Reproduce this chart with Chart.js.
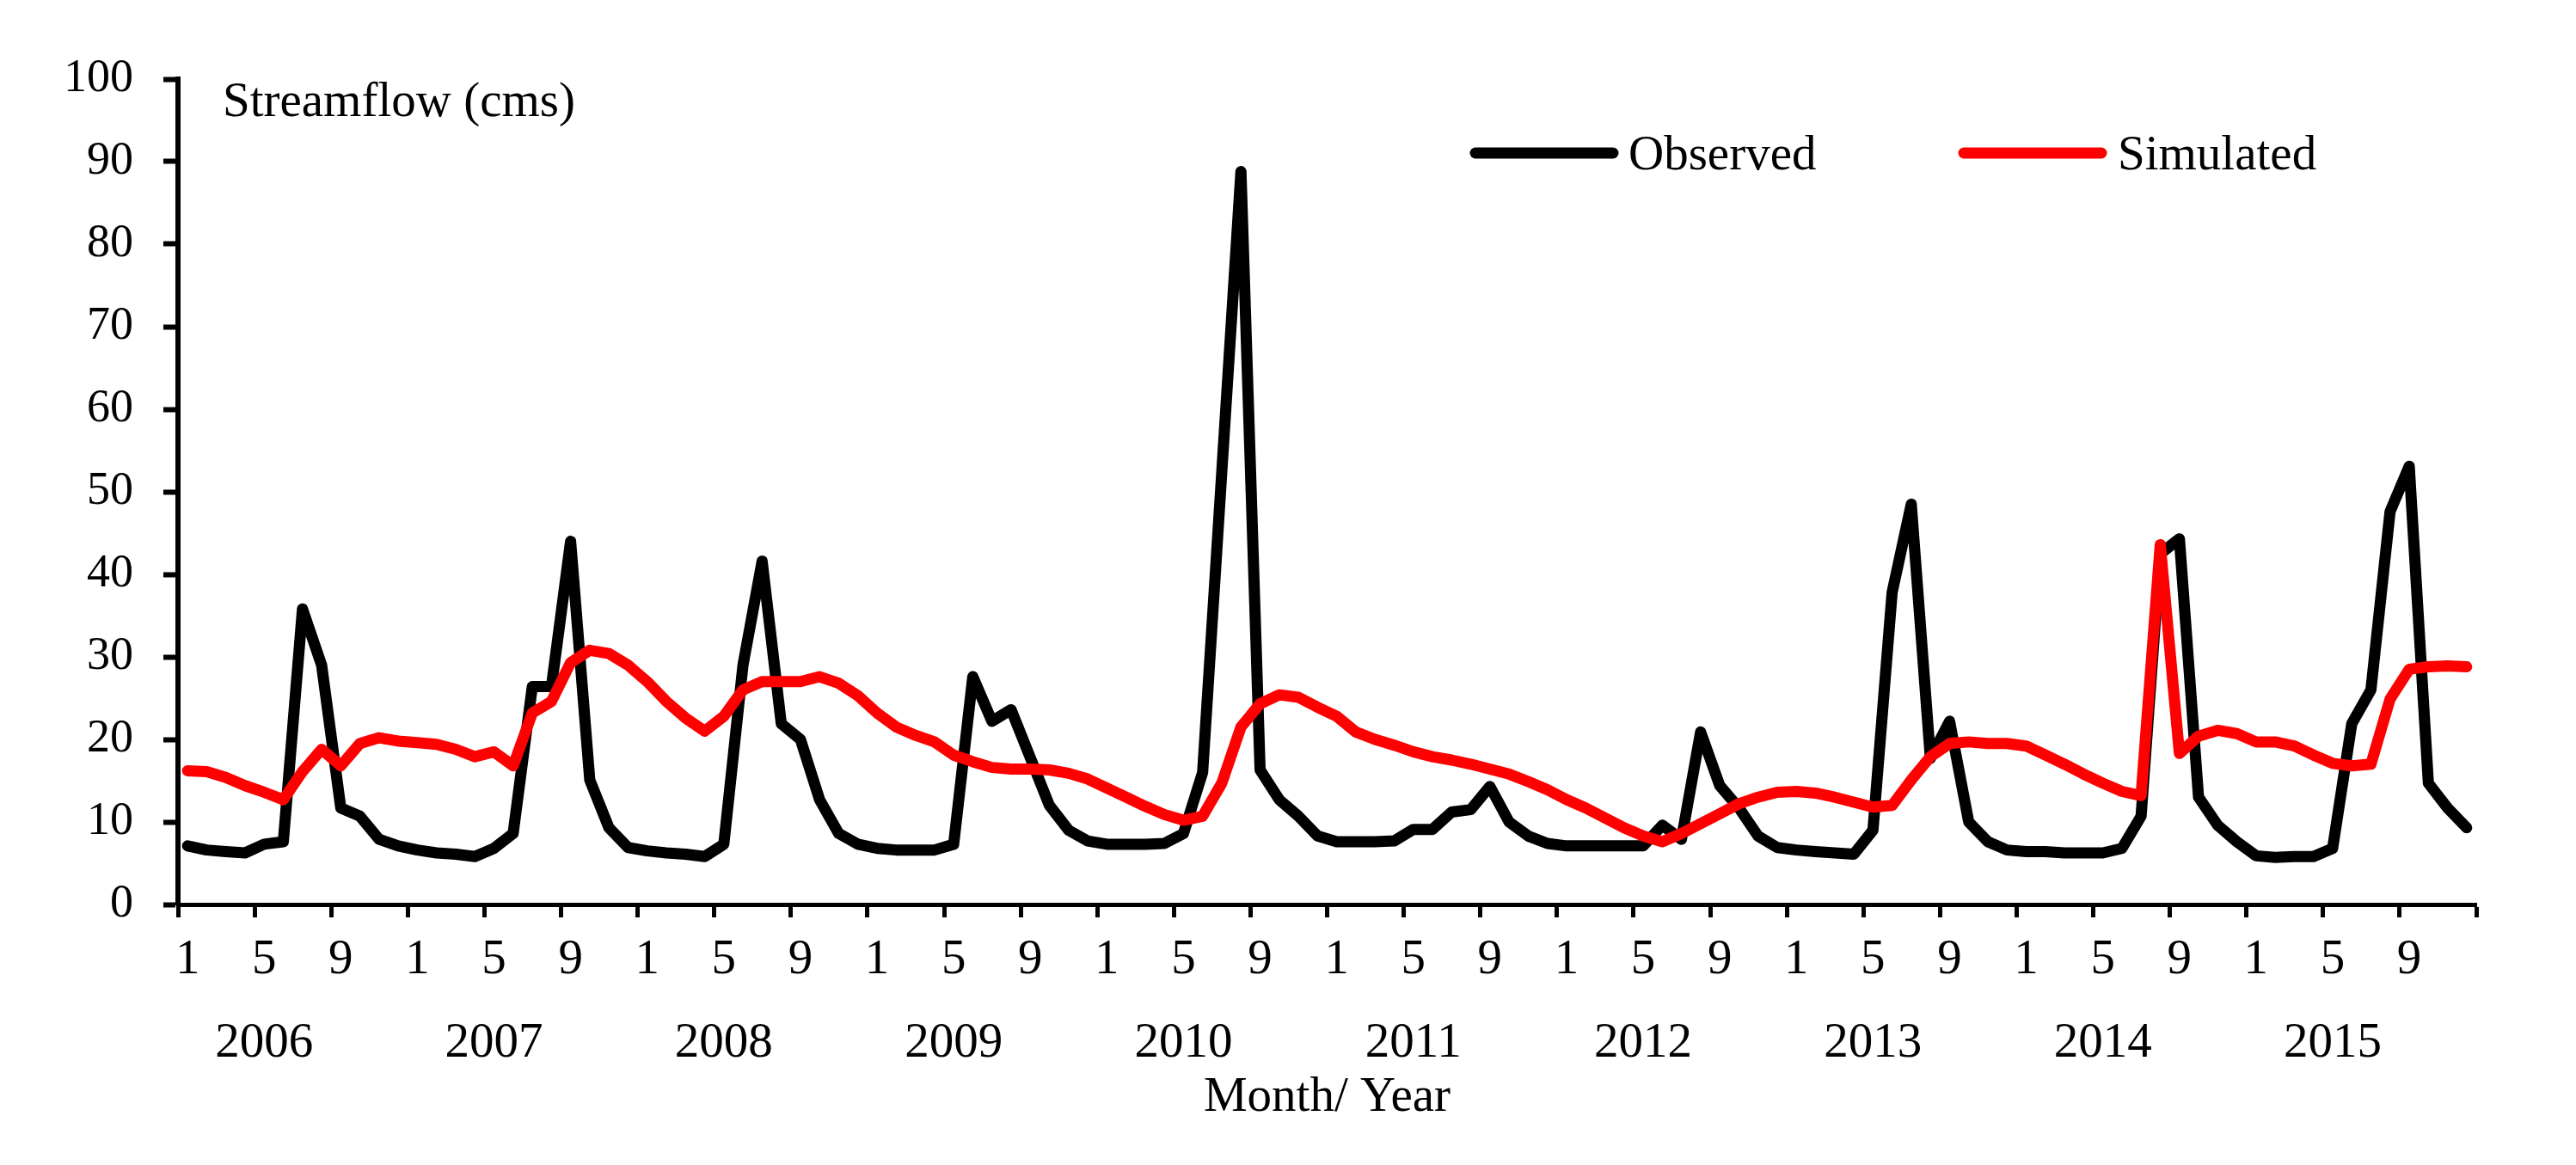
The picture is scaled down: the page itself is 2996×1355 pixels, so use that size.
<!DOCTYPE html>
<html>
<head>
<meta charset="utf-8">
<script src="https://cdn.jsdelivr.net/npm/chart.js@4.4.1/dist/chart.umd.min.js"></script>
<style>
  html, body { margin: 0; padding: 0; background: #ffffff; }
  canvas { display: block; }
</style>
</head>
<body>
<canvas id="c" width="2996" height="1355"></canvas>
<script>
// ---- data ----
const years = ['2006', '2007', '2008', '2009', '2010', '2011', '2012', '2013', '2014', '2015'];
const months = ['1', '2', '3', '4', '5', '6', '7', '8', '9', '10', '11', '12'];
const seriesNames = ['Observed', 'Simulated'];
const yAxisLabel = 'Streamflow (cms)';
const xAxisTitle = 'Month/ Year';

const observed = [
  7.1, 6.6, 6.4, 6.25, 7.3, 7.6, 35.8, 29.0, 11.7, 10.7, 7.9, 7.1,      // 2006
  6.6, 6.25, 6.1, 5.8, 6.8, 8.6, 26.4, 26.4, 44.0, 15.1, 9.3, 6.9,     // 2007
  6.5, 6.25, 6.1, 5.8, 7.3, 29.0, 41.6, 21.9, 20.0, 12.7, 8.6, 7.3,    // 2008
  6.8, 6.6, 6.6, 6.6, 7.3, 27.6, 22.2, 23.6, 17.8, 12.0, 9.0, 7.7,     // 2009
  7.3, 7.3, 7.3, 7.4, 8.6, 16.0, 52.4, 88.8, 16.3, 12.7, 10.7, 8.3,    // 2010
  7.6, 7.6, 7.6, 7.7, 9.1, 9.1, 11.2, 11.5, 14.3, 10.0, 8.3, 7.4,      // 2011
  7.1, 7.1, 7.1, 7.1, 7.1, 9.6, 7.9, 20.9, 14.4, 11.7, 8.3, 6.9,       // 2012
  6.6, 6.4, 6.25, 6.1, 9.0, 37.8, 48.5, 17.7, 22.2, 10.0, 7.6, 6.6,    // 2013
  6.4, 6.4, 6.25, 6.25, 6.25, 6.8, 10.7, 42.5, 44.3, 13.0, 9.6, 7.6,   // 2014
  5.9, 5.7, 5.8, 5.8, 6.8, 21.9, 26.0, 47.6, 53.1, 14.7, 11.7, 9.3     // 2015
];

const simulated = [
  16.2, 16.1, 15.4, 14.4, 13.6, 12.7, 16.1, 18.8, 16.8, 19.5, 20.2, 19.8,   // 2006
  19.6, 19.4, 18.8, 17.9, 18.5, 16.8, 23.2, 24.6, 29.3, 30.8, 30.4, 29.0,   // 2007
  27.0, 24.6, 22.6, 21.0, 22.8, 26.0, 27.0, 27.0, 27.0, 27.6, 26.8, 25.3,   // 2008
  23.2, 21.5, 20.5, 19.7, 18.1, 17.3, 16.6, 16.4, 16.4, 16.3, 15.9, 15.2,   // 2009
  14.1, 13.0, 11.9, 10.9, 10.2, 10.7, 14.7, 21.5, 24.3, 25.4, 25.1, 23.9,   // 2010
  22.8, 20.9, 20.0, 19.3, 18.5, 17.9, 17.5, 17.0, 16.4, 15.8, 14.9, 13.9,   // 2011
  12.7, 11.7, 10.5, 9.3, 8.3, 7.6, 8.6, 9.8, 11.0, 12.2, 13.0, 13.6,        // 2012
  13.7, 13.5, 13.0, 12.4, 11.8, 12.0, 15.1, 17.9, 19.5, 19.7, 19.5, 19.5,   // 2013
  19.2, 18.1, 17.0, 15.8, 14.7, 13.7, 13.2, 43.6, 18.3, 20.4, 21.1, 20.7,   // 2014
  19.7, 19.7, 19.2, 18.1, 17.1, 16.8, 17.0, 24.9, 28.5, 28.8, 28.9, 28.8    // 2015
];

const categories = [];
years.forEach(y => months.forEach(m => categories.push(m + '/' + y)));

const FONT = '"Liberation Serif", "Times New Roman", serif';

// overlay texts inside the plot: axis caption and legend
const overlayText = {
  id: 'overlayText',
  afterDraw(chart) {
    const ctx = chart.ctx;
    const a = chart.chartArea;
    ctx.save();
    ctx.fillStyle = '#000000';
    ctx.font = '57px ' + FONT;
    ctx.textAlign = 'left';
    ctx.textBaseline = 'alphabetic';
    ctx.fillText(yAxisLabel, a.left + 52, a.top + 43);

    const slots = [
      { x0: a.right - 1164, x1: a.right - 1004, tx: a.right - 986 },
      { x0: a.right - 596,  x1: a.right - 436,  tx: a.right - 417 }
    ];
    chart.data.datasets.forEach((ds, i) => {
      const s = slots[i];
      const ly = a.top + 86;
      ctx.beginPath();
      ctx.lineCap = 'round';
      ctx.lineWidth = 13;
      ctx.strokeStyle = ds.borderColor;
      ctx.moveTo(s.x0, ly);
      ctx.lineTo(s.x1, ly);
      ctx.stroke();
      ctx.fillStyle = '#000000';
      ctx.fillText(ds.label, s.tx, a.top + 105);
    });
    ctx.restore();
  }
};

new Chart(document.getElementById('c'), {
  type: 'line',
  data: {
    labels: categories,
    datasets: [
      {
        label: seriesNames[0],
        data: observed,
        order: 1,
        borderColor: '#000000',
        backgroundColor: '#000000',
        borderWidth: 13,
        borderCapStyle: 'round',
        borderJoinStyle: 'round',
        pointRadius: 0,
        tension: 0,
        fill: false
      },
      {
        label: seriesNames[1],
        data: simulated,
        order: 0,
        borderColor: '#ff0000',
        backgroundColor: '#ff0000',
        borderWidth: 13,
        borderCapStyle: 'round',
        borderJoinStyle: 'round',
        pointRadius: 0,
        tension: 0,
        fill: false
      }
    ]
  },
  options: {
    responsive: false,
    devicePixelRatio: 1,
    animation: false,
    layout: { padding: { top: 92, right: 116, bottom: 0, left: 0 } },
    plugins: {
      legend: { display: false },
      tooltip: { enabled: false },
      title: { display: false }
    },
    scales: {
      x: {
        type: 'category',
        offset: true,
        afterFit(scale) { scale.height = 303; },
        border: { display: true, color: '#000000', width: 5 },
        grid: {
          offset: true,
          drawOnChartArea: false,
          drawTicks: true,
          tickLength: 15,
          tickWidth: 5,
          tickColor: (ctx) => (ctx.index === undefined || ctx.index % 4 === 0) ? '#000000' : 'rgba(0,0,0,0)'
        },
        ticks: {
          autoSkip: false,
          maxRotation: 0,
          minRotation: 0,
          padding: 2,
          color: '#000000',
          font: { family: FONT, size: 57, lineHeight: 1.7 },
          callback: function (value, index) {
            const m = index % 12;
            const y = Math.floor(index / 12);
            if (m % 4 !== 0) return '';
            if (m === 4) return [months[m], years[y]];
            return months[m];
          }
        },
        title: {
          display: true,
          text: xAxisTitle,
          color: '#000000',
          font: { family: FONT, size: 57, lineHeight: 1.2 },
          padding: { top: 0, bottom: 44 }
        }
      },
      y: {
        min: 0,
        max: 100,
        afterFit(scale) { scale.width = 207; },
        border: { display: true, color: '#000000', width: 6 },
        grid: {
          drawOnChartArea: false,
          drawTicks: true,
          tickLength: 17,
          tickWidth: 6,
          tickColor: '#000000'
        },
        ticks: {
          stepSize: 10,
          padding: 35,
          color: '#000000',
          font: { family: FONT, size: 54 }
        }
      }
    }
  },
  plugins: [overlayText]
});
</script>
</body>
</html>
